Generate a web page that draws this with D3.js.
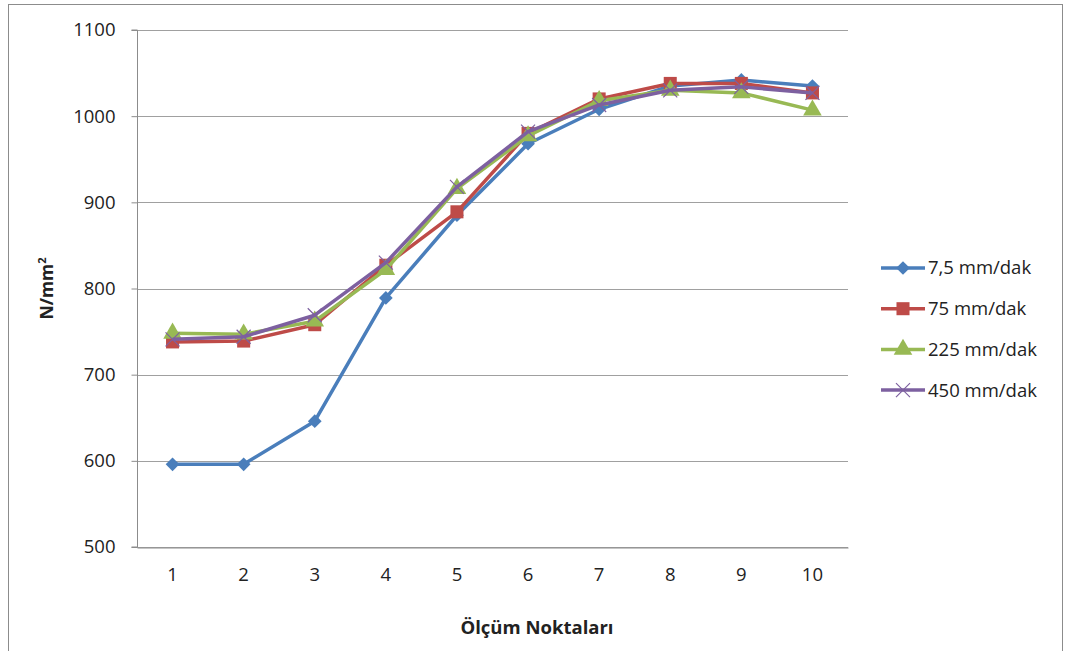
<!DOCTYPE html>
<html>
<head>
<meta charset="utf-8">
<script src="https://cdn.jsdelivr.net/npm/d3@7"></script>
<style>
  body { margin: 0; background: #fff; }
  text { font-family: "Open Sans", "Noto Sans", sans-serif; }
</style>
</head>
<body>
<div id="chart"></div>
<script>
// Data
const points = [1, 2, 3, 4, 5, 6, 7, 8, 9, 10];
const seriesNames = ["7,5 mm/dak", "75 mm/dak", "225 mm/dak", "450 mm/dak"];
const v75 = [596, 596, 646, 789, 885, 968, 1008, 1035, 1042, 1035];
const v750 = [738, 739, 758, 827, 889, 980, 1020, 1038, 1038, 1027];
const v225 = [748, 747, 762, 822, 916, 977, 1018, 1030, 1027, 1007];
const v450 = [741, 744, 769, 830, 918, 982, 1013, 1030, 1034, 1027];
const yTicks = [500, 600, 700, 800, 900, 1000, 1100];
const colors = ["#4A7EBB", "#BE4B48", "#98B954", "#7D60A0"];
const shapes = ["diamond", "square", "triangle", "cross"];

const allValues = [v75, v750, v225, v450];

let width = 1065, height = 651;
let margin = { top: 30, left: 137, right: 217, bottom: 104 };

let svg = d3.select("#chart")
  .append("svg")
  .attr("width", width)
  .attr("height", height);

// outer frame
svg.append("rect")
  .attr("x", 8.5).attr("y", 4.5)
  .attr("width", 1054).attr("height", 660)
  .attr("fill", "none")
  .attr("stroke", "#8c8c8c");

let x = d3.scaleBand()
  .domain(points)
  .range([margin.left, width - margin.right]);

let y = d3.scaleLinear()
  .domain([500, 1100])
  .range([height - margin.bottom, margin.top]);

// gridlines
svg.append("g")
  .selectAll("line")
  .data(yTicks)
  .enter().append("line")
  .attr("x1", margin.left)
  .attr("x2", width - margin.right)
  .attr("y1", d => Math.round(y(d)) + 0.5)
  .attr("y2", d => Math.round(y(d)) + 0.5)
  .attr("stroke", "#a0a0a0")
  .attr("stroke-width", 1.2);

// y axis
let yAxis = svg.append("g")
  .attr("transform", `translate(${margin.left + 0.5},0)`)
  .call(d3.axisLeft(y).tickValues(yTicks).tickSize(6).tickPadding(16).tickFormat(d3.format("d")));
yAxis.select(".domain").attr("stroke", "#8c8c8c").attr("d", `M-6,${y(1100)}H0V${y(500)}H-6`);
yAxis.selectAll(".tick line").attr("stroke", "#8c8c8c");
yAxis.selectAll("text")
  .attr("x", -22)
  .attr("fill", "#222")
  .style("font-size", "18.5px");

// x axis
let xAxis = svg.append("g")
  .attr("transform", `translate(0,${Math.round(y(500)) + 0.5})`)
  .call(d3.axisBottom(x).tickSize(0).tickPadding(20));
xAxis.select(".domain").attr("stroke", "#8c8c8c").attr("stroke-width", 1.2);
xAxis.selectAll("text")
  .attr("fill", "#222")
  .style("font-size", "18.5px");

// axis titles
svg.append("text")
  .attr("x", 537)
  .attr("y", 634)
  .attr("text-anchor", "middle")
  .style("font-size", "18.5px")
  .style("font-weight", "bold")
  .attr("fill", "#222")
  .text("Ölçüm Noktaları");

let yTitle = svg.append("text")
  .attr("transform", `translate(53,${y(800)}) rotate(-90)`)
  .attr("text-anchor", "middle")
  .style("font-size", "17.5px")
  .style("font-weight", "bold")
  .attr("fill", "#222");
yTitle.append("tspan").text("N/mm");
yTitle.append("tspan").attr("dy", -7).style("font-size", "11px").text("2");

function markerPath(shape) {
  if (shape === "diamond") return d3.symbol().type(d3.symbolDiamond2).size(120)();
  if (shape === "square") return d3.symbol().type(d3.symbolSquare).size(170)();
  if (shape === "triangle") return d3.symbol().type(d3.symbolTriangle).size(150)();
  return d3.symbol().type(d3.symbolTimes).size(130)();
}

let line = d3.line()
  .x((d, i) => x(points[i]) + x.bandwidth() / 2)
  .y(d => y(d));

allValues.forEach((vals, s) => {
  svg.append("path")
    .datum(vals)
    .attr("d", line)
    .attr("fill", "none")
    .attr("stroke", colors[s])
    .attr("stroke-width", 3.5)
    .attr("stroke-linejoin", "round");

  svg.append("g")
    .selectAll("path")
    .data(vals)
    .enter().append("path")
    .attr("transform", (d, i) => `translate(${x(points[i]) + x.bandwidth() / 2},${y(d)})`)
    .attr("d", markerPath(shapes[s]))
    .attr("fill", shapes[s] === "cross" ? "none" : colors[s])
    .attr("stroke", colors[s])
    .attr("stroke-width", shapes[s] === "cross" ? 1.2 : 0);
});

// legend
let legend = svg.append("g").attr("transform", "translate(881,268)");
seriesNames.forEach((name, i) => {
  let g = legend.append("g").attr("transform", `translate(0,${i * 40.7})`);
  g.append("line")
    .attr("x1", 0).attr("x2", 44)
    .attr("stroke", colors[i])
    .attr("stroke-width", 3.5);
  g.append("path")
    .attr("transform", "translate(22,0)")
    .attr("d", markerPath(shapes[i]))
    .attr("fill", shapes[i] === "cross" ? "none" : colors[i])
    .attr("stroke", colors[i])
    .attr("stroke-width", shapes[i] === "cross" ? 1.2 : 0);
  g.append("text")
    .attr("x", 47)
    .attr("y", 0)
    .attr("dy", "0.35em")
    .style("font-size", "18.5px")
    .attr("fill", "#222")
    .text(name);
});
</script>
</body>
</html>
